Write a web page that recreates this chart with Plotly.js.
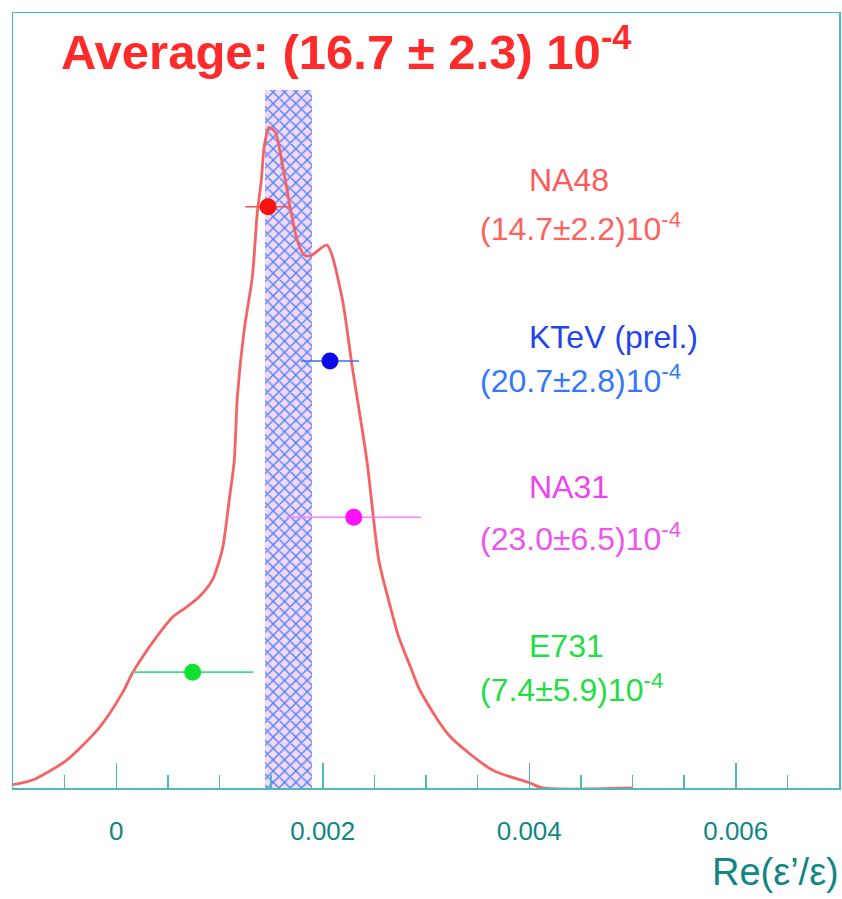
<!DOCTYPE html>
<html>
<head>
<meta charset="utf-8">
<script src="https://cdn.plot.ly/plotly-3.0.1.min.js"></script>
<style>html,body{margin:0;padding:0;background:#fff;}#chart{width:842px;height:899px;}</style>
</head>
<body>
<div id="chart"></div>
<script>
// Likelihood curve (Re(eps'/eps) vs. relative density, arbitrary units)
const curveX = [-0.00100, -0.00081, -0.00048, -0.00016, 0.000061, 0.000158, 0.000254, 0.000389, 0.000544, 0.000678, 0.000804, 0.000930, 0.001027, 0.001094, 0.001143, 0.001173, 0.001239, 0.001318, 0.001366, 0.001405, 0.001432, 0.001480, 0.001540, 0.001607, 0.001694, 0.001752, 0.001820, 0.001886, 0.002040, 0.002185, 0.002280, 0.002427, 0.002543, 0.002637, 0.002736, 0.002862, 0.002940, 0.003220, 0.003645, 0.004000, 0.004130, 0.005000];
const curveY = [0.005, 0.012, 0.042, 0.092, 0.144, 0.174, 0.198, 0.228, 0.258, 0.273, 0.289, 0.314, 0.360, 0.435, 0.495, 0.591, 0.692, 0.772, 0.869, 0.918, 0.968, 0.998, 0.991, 0.944, 0.869, 0.828, 0.805, 0.804, 0.820, 0.742, 0.642, 0.495, 0.344, 0.284, 0.228, 0.178, 0.148, 0.080, 0.027, 0.008, 0.000, 0.000];

// Average band
const avgValue = 0.00167;
const avgError = 0.00023;
const bandHeight = 1.054;

// Experiments
const experiments = ['NA48', 'KTeV (prel.)', 'NA31', 'E731'];
const expValues = [0.00147, 0.00207, 0.00230, 0.00074];
const expErrors = [0.00022, 0.00028, 0.00065, 0.00059];
const expLevels = [0.878, 0.645, 0.409, 0.175];
const expResults = ['(14.7±2.2)10<sup>-4</sup>', '(20.7±2.8)10<sup>-4</sup>', '(23.0±6.5)10<sup>-4</sup>', '(7.4±5.9)10<sup>-4</sup>'];

// Axis ticks
const tickVals = [0, 0.002, 0.004, 0.006];
const tickText = ['0', '0.002', '0.004', '0.006'];

const titleText = 'Average: (16.7 ± 2.3) 10<sup>-4</sup>';
const axisTitle = 'Re(ε’/ε)';

// styling
const markerColors = ['#ff1010', '#0a0ae6', '#ff10ff', '#10e030'];
const barColors = ['#ff5050', '#3a70e8', '#ff80ff', '#40e080'];
const nameColors = ['#ff5a5a', '#2244ee', '#ee44ee', '#22dd44'];
const resColors = ['#ff6060', '#3377ff', '#ee55ee', '#22dd44'];
const teal = '#4fb9b9';
const tealText = '#128586';
const FONT = 'Liberation Sans, Arial, sans-serif';

const W = 842, H = 899, L = 13, R = 839, T = 13, B = 788;
const px2x = p => (p - L) / (R - L);
const py2y = p => (B - p) / (B - T);

const traces = [];
traces.push({
  type: 'bar', x: [avgValue], y: [bandHeight], width: [2 * avgError], base: [0],
  marker: {color: '#f6d8f6', line: {width: 0},
    pattern: {shape: 'x', fgcolor: '#3f80ff', bgcolor: '#f6d8f6', size: 8, solidity: 0.3, fillmode: 'replace'}},
  hoverinfo: 'skip', showlegend: false
});
traces.push({
  type: 'scatter', mode: 'lines', x: curveX, y: curveY,
  line: {color: '#f46262', width: 2.8, shape: 'spline', smoothing: 0.7},
  hoverinfo: 'skip', showlegend: false
});
for (let i = 0; i < experiments.length; i++) {
  traces.push({
    type: 'scatter', mode: 'markers', x: [expValues[i]], y: [expLevels[i]],
    error_x: {type: 'data', array: [expErrors[i]], color: barColors[i], thickness: 1.6, width: 0},
    marker: {color: markerColors[i], size: 17},
    name: experiments[i], showlegend: false
  });
}

const nameY = [180, 337, 487, 646];
const resY = [227, 379, 537, 688];
const annotations = [];
for (let i = 0; i < experiments.length; i++) {
  annotations.push({xref: 'paper', yref: 'paper', x: px2x(528), y: py2y(nameY[i]), xanchor: 'left', yanchor: 'middle',
    text: experiments[i], showarrow: false, borderpad: 0, font: {family: FONT, size: 32, color: nameColors[i]}});
  annotations.push({xref: 'paper', yref: 'paper', x: px2x(479), y: py2y(resY[i]), xanchor: 'left', yanchor: 'middle',
    text: expResults[i], showarrow: false, borderpad: 0, font: {family: FONT, size: 32, color: resColors[i]}});
}
annotations.push({xref: 'paper', yref: 'paper', x: px2x(841), y: py2y(872), xanchor: 'right', yanchor: 'middle',
  text: axisTitle, showarrow: false, font: {family: FONT, size: 38, color: tealText}});

const layout = {
  width: W, height: H,
  margin: {l: L, r: W - R, t: T, b: H - B},
  paper_bgcolor: '#ffffff', plot_bgcolor: '#ffffff',
  title: {text: titleText, xref: 'container', yref: 'container', x: 61 / W, xanchor: 'left',
    y: 1 - 52 / H, yanchor: 'middle',
    font: {family: FONT, size: 49, color: '#ff2a2a', weight: 'bold'}},
  xaxis: {range: [-0.001, 0.007], showgrid: false, zeroline: false, showline: true, mirror: true,
    linecolor: teal, linewidth: 1.5, ticks: 'inside', ticklen: 25, tickwidth: 1.5, tickcolor: teal,
    tickmode: 'array', tickvals: tickVals, ticktext: tickText, ticklabelstandoff: 19,
    tickfont: {family: FONT, size: 26, color: tealText},
    minor: {dtick: 0.0005, tick0: 0, ticks: 'inside', ticklen: 13, tickwidth: 1.5, tickcolor: teal, showgrid: false}},
  yaxis: {range: [0, 1.1707], showgrid: false, zeroline: false, showline: true, mirror: true,
    linecolor: teal, linewidth: 1.5, ticks: '', showticklabels: false},
  bargap: 0,
  annotations: annotations,
  showlegend: false
};

Plotly.newPlot('chart', traces, layout, {displayModeBar: false, staticPlot: true});
</script>
</body>
</html>
